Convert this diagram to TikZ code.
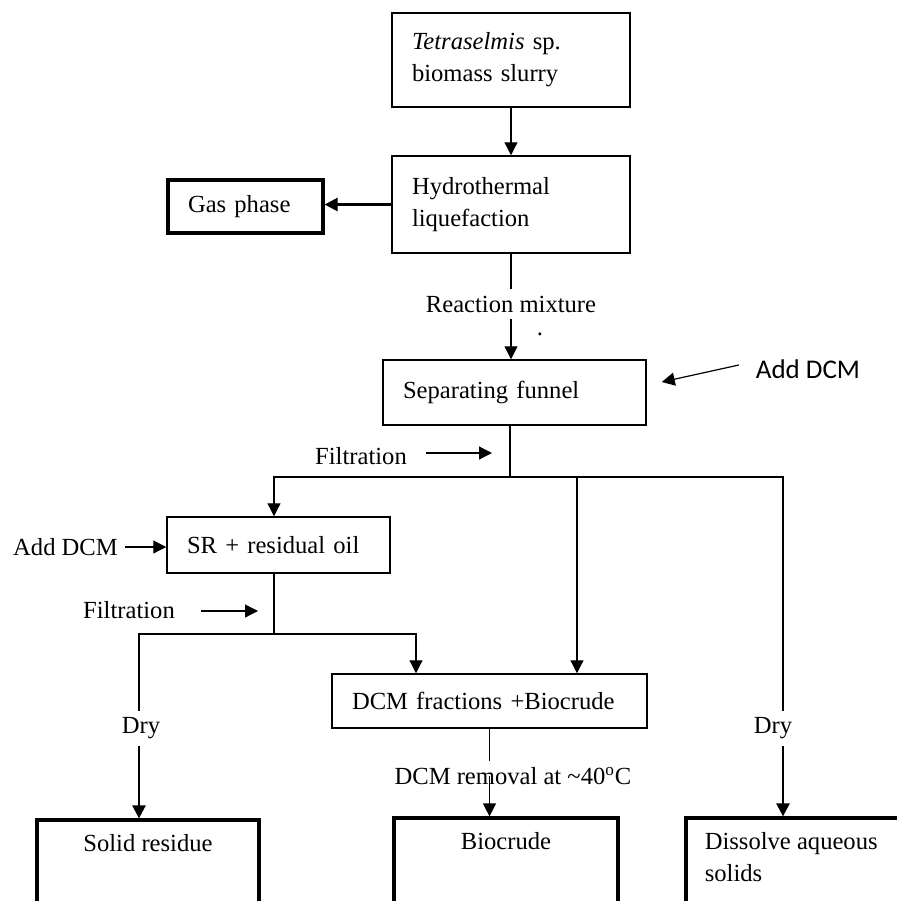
\documentclass[tikz,border=0pt]{standalone}
\usepackage{fontspec}
\setmainfont{Liberation Serif}
\newfontfamily\calibrifont{Carlito}
\usepackage{tikz}
\usetikzlibrary{
  arrows.meta,
  positioning
}
\definecolor{InkBlack}{RGB}{0, 0, 0}
\definecolor{PaperWhite}{RGB}{255, 255, 255}
\tikzset{
    stepbox/.style={rectangle, draw=InkBlack, line width=0.75pt, align=left, inner xsep=10pt},
    endbox/.style={rectangle, draw=InkBlack, line width=1.6pt},
    plainline/.style={draw=InkBlack, line width=0.6pt, line cap=rect},
    flow/.style={plainline, line cap=butt, -{Triangle[length=6.5pt, width=6.5pt]}},
    thickflow/.style={flow, line width=1.2pt},
    boxtext/.style={anchor=north, inner sep=0pt, yshift=-8pt}
}

\begin{document}
\begin{tikzpicture}[x=0.5pt, y=-0.5pt, font=\fontsize{12.3}{16}\selectfont]
                \useasboundingbox (0,0) rectangle (897,901);
                \clip (0,0) rectangle (897,901);
                \fill[PaperWhite] (0,0) rectangle (897,901);

                \node[stepbox, text width=99pt, minimum height=47pt] (slurry) at (511,60) {\textit{Tetraselmis} sp.\\biomass slurry};
                \node[stepbox, text width=99pt, minimum height=48.5pt] (htl) at (511,204.5) {Hydrothermal\\liquefaction};
                \node[stepbox, line width=1.6pt, text width=57.5pt, minimum height=26.5pt] (gas) at (245.5,206.5) {Gas phase};
                \node[stepbox, text width=111.5pt, minimum height=32.5pt] (funnel) at (514.5,392.5) {Separating funnel};
                \node[stepbox, text width=91.5pt, minimum height=28pt] (sr) at (278.5,545) {SR + residual oil};
                \node[stepbox, text width=137.5pt, minimum height=27pt] (dcmf) at (489.5,701) {DCM fractions +Biocrude};

                \node[endbox, minimum width=111pt, minimum height=100pt,
                    label={[boxtext]north:Solid residue}] (solid) at (148,920) {};
                \node[endbox, minimum width=112pt, minimum height=100pt,
                    label={[boxtext]north:Biocrude}] (bio) at (506,918) {};
                \node[endbox, minimum width=130pt, minimum height=100pt,
                    label={[boxtext, anchor=north west, align=left, xshift=10pt]north west:Dissolve aqueous\\solids}] (dissolve) at (816,918) {};

                \node[font=\calibrifont\fontsize{13.5}{16}\selectfont] (adddcmR) at (808,369) {Add DCM};
                \node (adddcmL) at (65.5,547) {Add DCM};
                \node (filt1) at (361,456) {Filtration};
                \node (filt2) at (129,610) {Filtration};
                \node (dryL) at (141,728) {Dry};
                \node (dryR) at (773,728) {Dry};
                \node (removal) at (513,776) {DCM removal at \textasciitilde40\textsuperscript{o}C};
                \node[inner sep=0pt] (dot) at (540,334) {.};

                \coordinate (split) at (510,477);
                \coordinate (brL) at (274,477);
                \coordinate (brM) at (577,477);
                \coordinate (brR) at (783,477);
                \coordinate (subsplit) at (274,634);
                \coordinate (subL) at (139,634);
                \coordinate (subR) at (416,634);
                \coordinate (filt1tip) at (492,453);
                \coordinate (filt2tip) at (258,611);

                \draw[flow] (slurry) -- (slurry.south |- htl.north);
                \draw[thickflow] (htl.west) -- (htl.west -| gas.east);
                \draw[flow] (htl.south) -- node[pos=0.477, fill=PaperWhite] {Reaction mixture} (htl.south |- funnel.north);
                \draw[flow] ([shift={(-10,-4)}]adddcmR.west) -- ([shift={(15,-10.5)}]funnel.east);

                \draw[plainline] (split |- funnel.south) -- (split);
                \draw[plainline] (brL) -- (brR);
                \draw[flow, shorten <=6pt] (filt1.east |- filt1tip) -- (filt1tip);
                \draw[flow] (brL) -- (brL |- sr.north);
                \draw[flow] (brM) -- (brM |- dcmf.north);
                \draw[plainline] (brR) -- (brR |- dryR.north);
                \draw[thickflow] (brR |- dryR.south) -- (brR |- dissolve.north);

                \draw[flow] (adddcmL.east) -- (adddcmL.east -| sr.west);
                \draw[plainline] (subsplit |- sr.south) -- (subsplit);
                \draw[plainline] (subL) -- (subR);
                \draw[flow, shorten <=9.5pt] (filt2.east |- filt2tip) -- (filt2tip);
                \draw[flow] (subR) -- (subR |- dcmf.north);
                \draw[plainline] (subL) -- (subL |- dryL.north);
                \draw[thickflow] (subL |- dryL.south) -- (subL |- solid.north);

                \draw[plainline] (dcmf.south) -- (dcmf.south |- removal.north);
                \draw[flow] (dcmf.south |- removal.center) -- (dcmf.south |- bio.north);
            \end{tikzpicture}
\end{document}
